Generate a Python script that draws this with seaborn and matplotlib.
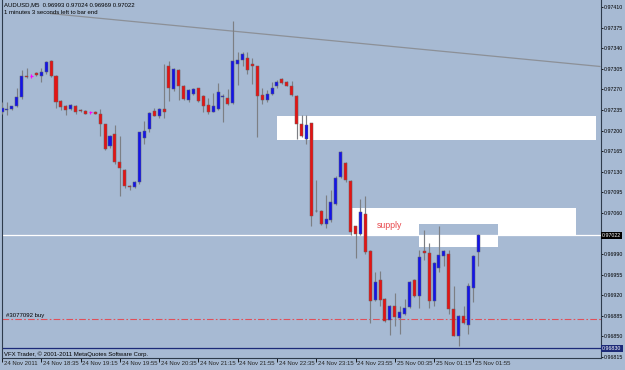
import numpy as np
import pandas as pd
import matplotlib
matplotlib.use("Agg")
import matplotlib.pyplot as plt
import matplotlib.transforms as mtransforms
from matplotlib.patches import Rectangle
import seaborn as sns

# ---------------- data (AUDUSD M5, 24-25 Nov 2011) ----------------
opens = [0.97232, 0.97235, 0.97236, 0.97242, 0.97257, 0.97292, 0.97293, 0.97298, 0.97293, 0.97299,
         0.97319, 0.97293, 0.97250, 0.97241, 0.97237, 0.97242, 0.97235, 0.97233, 0.97231, 0.97232,
         0.97229, 0.97211, 0.97173, 0.97195, 0.97146, 0.97133, 0.97106, 0.97104, 0.97112, 0.97188,
         0.97202, 0.97234, 0.97224, 0.97237, 0.97310, 0.97270, 0.97303, 0.97276, 0.97252, 0.97262,
         0.97272, 0.97259, 0.97243, 0.97232, 0.97236, 0.97257, 0.97256, 0.97247, 0.97313, 0.97320,
         0.97324, 0.97313, 0.97309, 0.97260, 0.97252, 0.97262, 0.97275, 0.97288, 0.97282, 0.97276,
         0.97259, 0.97212, 0.97186, 0.97213, 0.97063, 0.97063, 0.97041, 0.97048, 0.97075, 0.97121,
         0.97145, 0.97114, 0.97037, 0.97024, 0.97058, 0.96995, 0.96912, 0.96946, 0.96913, 0.96878,
         0.96902, 0.96881, 0.96889, 0.96900, 0.96946, 0.96918, 0.96996, 0.96992, 0.96911, 0.96966,
         0.96986, 0.96990, 0.96896, 0.96851, 0.96885, 0.96870, 0.96933, 0.96993]
highs = [0.97249, 0.97249, 0.97242, 0.97272, 0.97303, 0.97306, 0.97297, 0.97300, 0.97306, 0.97319,
         0.97320, 0.97294, 0.97252, 0.97243, 0.97245, 0.97243, 0.97237, 0.97235, 0.97234, 0.97234,
         0.97236, 0.97212, 0.97192, 0.97209, 0.97191, 0.97134, 0.97107, 0.97114, 0.97198, 0.97216,
         0.97232, 0.97238, 0.97238, 0.97314, 0.97319, 0.97306, 0.97304, 0.97277, 0.97271, 0.97273,
         0.97273, 0.97260, 0.97255, 0.97264, 0.97281, 0.97262, 0.97271, 0.97386, 0.97333, 0.97334,
         0.97333, 0.97324, 0.97310, 0.97272, 0.97269, 0.97283, 0.97286, 0.97289, 0.97284, 0.97284,
         0.97260, 0.97226, 0.97226, 0.97213, 0.97116, 0.97065, 0.97090, 0.97099, 0.97122, 0.97166,
         0.97147, 0.97116, 0.97038, 0.97083, 0.97089, 0.96997, 0.96959, 0.96962, 0.96915, 0.96903,
         0.96924, 0.96901, 0.96913, 0.96944, 0.96947, 0.96997, 0.97031, 0.97009, 0.96976, 0.97037,
         0.96997, 0.96997, 0.96936, 0.96886, 0.96902, 0.96941, 0.96988, 0.97024]
lows = [0.97228, 0.97226, 0.97235, 0.97240, 0.97254, 0.97289, 0.97289, 0.97293, 0.97283, 0.97297,
        0.97291, 0.97238, 0.97235, 0.97226, 0.97235, 0.97229, 0.97232, 0.97228, 0.97228, 0.97228,
        0.97190, 0.97167, 0.97170, 0.97144, 0.97089, 0.97102, 0.97099, 0.97102, 0.97109, 0.97177,
        0.97198, 0.97224, 0.97221, 0.97221, 0.97250, 0.97267, 0.97252, 0.97252, 0.97249, 0.97260,
        0.97249, 0.97232, 0.97229, 0.97231, 0.97235, 0.97215, 0.97243, 0.97246, 0.97277, 0.97309,
        0.97296, 0.97280, 0.97189, 0.97245, 0.97249, 0.97260, 0.97273, 0.97280, 0.97275, 0.97259,
        0.97185, 0.97189, 0.97177, 0.97037, 0.97062, 0.97039, 0.97034, 0.97045, 0.97073, 0.97119,
        0.97113, 0.97022, 0.96983, 0.97022, 0.96991, 0.96873, 0.96910, 0.96901, 0.96874, 0.96852,
        0.96867, 0.96855, 0.96886, 0.96898, 0.96917, 0.96898, 0.96980, 0.96898, 0.96901, 0.96960,
        0.96969, 0.96889, 0.96850, 0.96833, 0.96871, 0.96854, 0.96908, 0.96969]
closes = [0.97238, 0.97236, 0.97241, 0.97257, 0.97292, 0.97291, 0.97293, 0.97294, 0.97300, 0.97317,
          0.97292, 0.97249, 0.97240, 0.97235, 0.97243, 0.97231, 0.97234, 0.97229, 0.97231, 0.97229,
          0.97212, 0.97168, 0.97191, 0.97146, 0.97137, 0.97106, 0.97104, 0.97112, 0.97197, 0.97199,
          0.97230, 0.97225, 0.97236, 0.97232, 0.97272, 0.97305, 0.97275, 0.97253, 0.97269, 0.97271,
          0.97250, 0.97242, 0.97231, 0.97242, 0.97265, 0.97259, 0.97245, 0.97319, 0.97320, 0.97330,
          0.97303, 0.97309, 0.97259, 0.97252, 0.97262, 0.97273, 0.97283, 0.97281, 0.97276, 0.97260,
          0.97211, 0.97191, 0.97209, 0.97055, 0.97064, 0.97042, 0.97050, 0.97078, 0.97119, 0.97163,
          0.97116, 0.97028, 0.97024, 0.97062, 0.96994, 0.96910, 0.96943, 0.96912, 0.96876, 0.96902,
          0.96883, 0.96891, 0.96898, 0.96943, 0.96918, 0.96985, 0.96992, 0.96911, 0.96975, 0.96988,
          0.96996, 0.96896, 0.96851, 0.96885, 0.96873, 0.96935, 0.96987, 0.97022]

first_bar_time = "2011-11-24 17:55"
time_tick_bars = [0, 8, 16, 24, 32, 40, 48, 56, 64, 72, 80, 88, 96]
time_tick_labels = ["24 Nov 2011", "24 Nov 18:35", "24 Nov 19:15", "24 Nov 19:55", "24 Nov 20:35",
                    "24 Nov 21:15", "24 Nov 21:55", "24 Nov 22:35", "24 Nov 23:15", "24 Nov 23:55",
                    "25 Nov 00:35", "25 Nov 01:15", "25 Nov 01:55"]
price_ticks = [0.97410, 0.97375, 0.97340, 0.97305, 0.97270, 0.97235, 0.97200, 0.97165, 0.97130,
               0.97095, 0.97060, 0.96990, 0.96955, 0.96920, 0.96885, 0.96850, 0.96815]
price_tick_labels = ["0.97410", "0.97375", "0.97340", "0.97305", "0.97270", "0.97235", "0.97200",
                     "0.97165", "0.97130", "0.97095", "0.97060", "0.96990", "0.96955", "0.96920",
                     "0.96885", "0.96850", "0.96815"]

bid_price = 0.97022
order_price = 0.96879
order_label = "#3077092 buy"
hline_price = 0.96830
trend_bars = [9.8, 121.8]
trend_prices = [0.97399, 0.97309]
# zones: (bar_start, bar_end, price_low, price_high)
zone_upper = (56.0, 121.0, 0.97184, 0.97224)
zone_supply = (71.2, 117.0, 0.97022, 0.97068)
zone_small = (85.0, 101.0, 0.97002, 0.97041)
supply_label = "supply"
supply_label_bar = 76.4
supply_label_price = 0.97039

symbol_line = "AUDUSD,M5  0.96993 0.97024 0.96969 0.97022"
timer_line = "1 minutes 3 seconds left to bar end"
copyright_line = "VFX Trader, \u00a9 2001-2011 MetaQuotes Software Corp."

# ---------------- styling ----------------
BG = "#A7BAD3"
BULL = "#1414E8"
BEAR = "#E41414"
WICK = "#7C7F84"
DOJI = "#FF00FF"
SPINE = "#2E3B4C"
FS = 4.3
FS_AX = 3.8

sns.set_theme(style="white")
plt.rcParams["font.family"] = ["Liberation Sans", "DejaVu Sans"]

df = pd.DataFrame({"open": opens, "high": highs, "low": lows, "close": closes})
df["time"] = pd.date_range(first_bar_time, periods=len(df), freq="5min")
df["bar"] = np.arange(len(df))

W, H = 625, 370
fig = plt.figure(figsize=(W / 100, H / 100), dpi=100, facecolor=BG)
ax = fig.add_axes([2 / W, 1 - 358 / H, 599 / W, 358 / H], facecolor=BG)
ax.set_xlim(0, 122.0)
ax.set_ylim(0.968134, 0.97422)

# rectangles (MT4 objects)
def zone(z, color, zo=1):
    x0, x1, y0, y1 = z
    ax.add_patch(Rectangle((x0, y0), x1 - x0, y1 - y0, facecolor=color, edgecolor="none", zorder=zo))

zone(zone_upper, "white")
zone(zone_supply, "white")
zone(zone_small, "white")
# overlapping part of the two rectangles is XOR-ed back to the background
ov = (zone_small[0], zone_small[1], max(zone_small[2], zone_supply[2]), min(zone_small[3], zone_supply[3]))
zone(ov, BG, zo=1.1)

ax.text(supply_label_bar, supply_label_price, supply_label, color="#E8484C", fontsize=6.3,
        va="center", ha="left", zorder=5)

# trendline
sns.lineplot(x=trend_bars, y=trend_prices, ax=ax, color="#8C9097", lw=0.9, zorder=1.5)

# horizontal levels
ax.axhline(bid_price, color="white", lw=0.9, zorder=1.6)
ax.axhline(order_price, color="#E0505A", lw=0.8, ls=(0, (6, 2, 1.5, 2)), zorder=1.6)
ax.axhline(hline_price, color="#1C2A78", lw=0.9, zorder=1.6)
ax.text(0.9, order_price + 0.00002, order_label, fontsize=FS, color="black", va="bottom", ha="left")

# candles
x = df["bar"].to_numpy()
o = df["open"].to_numpy(); c = df["close"].to_numpy()
hi = df["high"].to_numpy(); lo = df["low"].to_numpy()
doji = o == c
ax.vlines(x[~doji], lo[~doji], hi[~doji], color=WICK, lw=0.85, zorder=3)
ax.vlines(x[doji], lo[doji], hi[doji], color=DOJI, lw=0.85, zorder=3)
ax.hlines(o[doji], x[doji] - 0.35, x[doji] + 0.35, color=DOJI, lw=0.85, zorder=3)
up = (c > o)
dn = (c < o)
ax.bar(x[up], (c - o)[up], bottom=o[up], width=0.62, color=BULL, edgecolor="#5A5F70", lw=0.35, zorder=4)
ax.bar(x[dn], (o - c)[dn], bottom=c[dn], width=0.62, color=BEAR, edgecolor="#6A5F60", lw=0.35, zorder=4)

# axes / ticks
ax.spines["top"].set_visible(False)
for s in ["left", "bottom", "right"]:
    ax.spines[s].set_color(SPINE)
    ax.spines[s].set_linewidth(0.8)
ax.yaxis.tick_right()
ax.set_yticks(price_ticks)
ax.set_yticklabels(price_tick_labels)
ax.tick_params(axis="y", right=True, left=False, length=1.5, width=0.6, pad=0.6, labelsize=FS_AX,
               colors="black")
ax.set_xticks(time_tick_bars)
ax.set_xticklabels([""] * len(time_tick_bars))
ax.tick_params(axis="x", bottom=True, length=3, width=0.6, colors="black")
trans = mtransforms.blended_transform_factory(ax.transData, ax.transAxes)
for b, lab in zip(time_tick_bars, time_tick_labels):
    ax.text(b + 0.35, -0.007, lab, transform=trans, fontsize=FS, ha="left", va="top", clip_on=False)
ax.grid(False)

# price boxes on the axis
ytr = mtransforms.blended_transform_factory(ax.transAxes, ax.transData)
ax.text(1.002, bid_price, "0.97022", transform=ytr, fontsize=FS_AX, color="white", va="center", ha="left",
        bbox=dict(boxstyle="square,pad=0.2", fc="black", ec="none"), clip_on=False, zorder=6)
ax.text(1.002, hline_price, "0.96830", transform=ytr, fontsize=FS_AX, color="white", va="center", ha="left",
        bbox=dict(boxstyle="square,pad=0.2", fc="#1C2A78", ec="none"), clip_on=False, zorder=6)

# chart texts
fig.text(4 / W, 1 - 5 / H, symbol_line, fontsize=FS, va="center", ha="left", color="black")
fig.text(4 / W, 1 - 13 / H, timer_line, fontsize=FS, va="center", ha="left", color="black")
fig.text(4 / W, 1 - 354 / H, copyright_line, fontsize=FS, va="center", ha="left", color="black")

fig.savefig("out.png", dpi=100, facecolor=BG)
